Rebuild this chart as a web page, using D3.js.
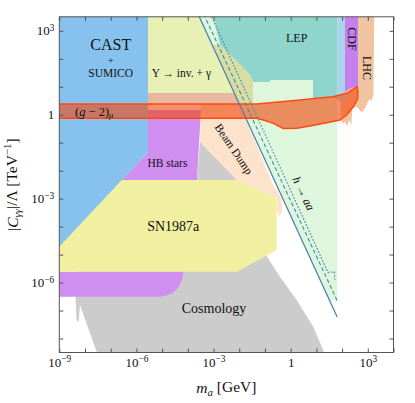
<!DOCTYPE html>
<html>
<head>
<meta charset="utf-8">
<script src="https://cdn.jsdelivr.net/npm/d3@7"></script>
<style>
  body { margin: 0; background: #fff; }
  text { font-family: "Liberation Serif", "DejaVu Serif", serif; fill: #111; }
</style>
</head>
<body>
<svg id="chart" width="415" height="403"></svg>
<script>
// all region vertices are [log10(m_a / GeV), log10(|C|/Lambda / TeV^-1)]
const cosmology = [[-8.37,-5.5],[-8.37,-6.507],[-8.33,-7.34],[-8.25,-7.41],[-8.195,-6.804],[-7.88,-7.626],[-7.456,-8.7],
  [1.40,-8.7],[0.879,-7.58],[0.234,-6.626],[-0.416,-5.792],[-0.96,-5.016],
  [-2.089,-2.335],[-3.527,-0.966],[-3.644,-2.335]];
const upsilon = [[-5.55,3.6],[-3.022,3.6],[-2.75,2.492],[-2.127,1.955],[-1.583,1.419],[-1.466,1.169],[-1.466,0.776],[-5.55,0.776]];
const hToAA = [[-3.605,3.6],[1.81,3.6],[1.81,-6.65],[1.52,-6.65]];
const overlap = [[-3.051,2.492],[-2.75,2.492],[-2.127,1.955],[-1.583,1.419],[-1.466,1.169],[-1.466,0.382],[-1.996,0.382]];
const lep = [[-3.022,3.6],[1.81,3.6],[1.81,0.597],[0.868,0.597],[0.868,1.24],[-0.805,1.24],[-0.805,1.169],
  [-1.466,1.169],[-1.583,1.419],[-2.127,1.955],[-2.75,2.492]];
const lhc = [[2.618,3.6],[3.25,3.6],[3.22,0.75],[3.16,0.49],[3.085,0.56],[3.0,0.45],[2.93,0.3],[2.85,0.17],[2.77,0.1],
  [2.7,0.132],[2.62,0.25],[2.5,0.28],[2.4,0.2],[2.36,-0.37],[2.28,-0.2],[2.2,-0.4],[2.12,-0.25],[2.05,-0.33],
  [1.95,-0.2],[1.95,0.6],[2.113,0.6]];
const lightBlue = [[1.81,3.6],[2.113,3.6],[2.113,0.5],[1.81,0.5]];
const cdf = [[2.113,3.6],[2.62,3.6],[2.62,1.0],[2.45,0.97],[2.28,0.93],[2.16,0.86],[2.113,0.75]];
const beamDump = [[-3.489,0.45],[-2.03,0.45],[-0.68,-2.514],[-0.338,-3.05],[-0.34,-3.5],[-0.455,-3.622],
  [-0.544,-3.4],[-0.544,-2.978],[-2.089,-2.335],[-3.527,-0.966]];
const hbStars = [[-5.55,0.168],[-3.489,0.168],[-3.644,-2.335],[-6.573,-2.335],[-5.55,-1.334]];
const hbLow = [[-9.5,-5.613],[-4.177,-5.613],[-4.227,-5.912],[-4.383,-6.198],[-4.617,-6.393],[-4.89,-6.482],[-5.083,-6.507],[-9.5,-6.507]];
const sn1987a = [[-9.5,-2.335],[-2.089,-2.335],[-0.544,-2.978],[-0.544,-4.837],[-2.089,-5.613],[-9.5,-5.613]];
const cast = [[-9.5,3.6],[-5.55,3.6],[-5.55,-1.334],[-9.5,-5.21]];
const g2Wide = [[-5.55,0.776],[-2.193,0.776],[-1.996,0.382],[-5.55,0.382]];
const g2Band = [[-9.5,0.382],[-1.322,0.382],[0.362,0.525],[1.012,0.586],[1.645,0.643],[2.178,0.765],[2.501,0.954],
  [2.579,1.008],[2.618,0.81],[2.6,0.55],[2.435,0.286],[2.178,-0.011],[1.918,-0.19],[1.40,-0.286],[0.751,-0.404],
  [0.234,-0.487],[-0.288,-0.494],[-0.676,-0.308],[-1.065,-0.19],[-1.322,-0.129],[-9.5,-0.129]];
const hSolid = [[-3.605,3.6],[1.81,-7.23]];
const hDashed = [[-3.385,3.6],[1.81,-6.65]];
const hDotted = [[-3.122,3.6],[1.45,-5.64],[1.7,-5.62],[1.72,-5.9]];

const xTickExp = d3.range(-9, 5);
const yTickExp = d3.range(-8, 4);
const xLabelExp = [-9, -6, -3, 0, 3];
const yLabelExp = [-6, -3, 0, 3];

const width = 415, height = 403;
const margin = { top: 16.8, right: 21.5, bottom: 50.5, left: 59.3 };

const svg = d3.select("#chart");

const x = d3.scaleLog().domain([1e-9, 1e4]).range([margin.left, width - margin.right]);
const y = d3.scaleLog().domain([10 ** -8.5, 10 ** 3.5]).range([height - margin.bottom, margin.top]);

const line = d3.line().x(d => x(10 ** d[0])).y(d => y(10 ** d[1]));

svg.append("defs").append("clipPath").attr("id", "plot")
  .append("rect")
  .attr("x", margin.left).attr("y", margin.top)
  .attr("width", width - margin.left - margin.right)
  .attr("height", height - margin.top - margin.bottom);

const plot = svg.append("g").attr("clip-path", "url(#plot)");

// regions, back to front
const regions = [
  [cosmology, "#cccccc"],
  [upsilon, "#e7f0b5"],
  [hToAA, "#ddf6dc"],
  [overlap, "#d8dea2"],
  [lep, "#8fd5cb"],
  [lhc, "#f0c4a0"],
  [lightBlue, "#a8d4ec"],
  [cdf, "#c480ee"],
  [beamDump, "#fde2cc"],
  [hbStars, "#cf8ef0"],
  [hbLow, "#cf8ef0"],
  [sn1987a, "#f0f0a0"],
  [cast, "#87c1ee"],
  [g2Wide, "#e8b7a0"]
];
regions.forEach(([pts, col]) => {
  plot.append("path").attr("d", line(pts) + "Z").attr("fill", col);
});

// (g-2)_mu band
plot.append("path")
  .attr("d", line(g2Band) + "Z")
  .attr("fill", "#f04a10").attr("fill-opacity", 0.62)
  .attr("stroke", "#ff4a12").attr("stroke-width", 1.5);

// h -> aa lines
plot.append("path").attr("d", line(hSolid)).attr("fill", "none")
  .attr("stroke", "#4a78b2").attr("stroke-width", 1.2);
plot.append("path").attr("d", line(hDashed)).attr("fill", "none")
  .attr("stroke", "#3f89ad").attr("stroke-width", 1.1).attr("stroke-dasharray", "4,2.5");
plot.append("path").attr("d", line(hDotted)).attr("fill", "none")
  .attr("stroke", "#4a8db5").attr("stroke-width", 1.3).attr("stroke-dasharray", "1.5,1.8");

// frame
svg.append("rect")
  .attr("x", margin.left).attr("y", margin.top)
  .attr("width", width - margin.left - margin.right)
  .attr("height", height - margin.top - margin.bottom)
  .attr("fill", "none").attr("stroke", "#555").attr("stroke-width", 1);

function expLabel(sel, e) {
  sel.text(null);
  if (e === 0) { sel.text("1"); return; }
  sel.append("tspan").text("10");
  sel.append("tspan").attr("dy", "-0.5em").attr("font-size", "0.72em").text(e < 0 ? "\u2212" + (-e) : e);
}

const xTicks = xTickExp.map(e => 10 ** e);
const yTicks = yTickExp.map(e => 10 ** e);

function styleAxis(g) {
  g.select(".domain").remove();
  g.selectAll(".tick line").attr("stroke", "#555");
  g.attr("font-family", null).attr("font-size", 13);
}

const gx = svg.append("g").attr("transform", `translate(0,${height - margin.bottom})`)
  .call(d3.axisBottom(x).tickValues(xTicks).tickSize(-4).tickPadding(5).tickFormat(() => ""));
styleAxis(gx);
gx.selectAll(".tick text").each(function (d) {
  const e = Math.round(Math.log10(d));
  if (xLabelExp.includes(e)) expLabel(d3.select(this), e);
});

const gy = svg.append("g").attr("transform", `translate(${margin.left},0)`)
  .call(d3.axisLeft(y).tickValues(yTicks).tickSize(-4).tickPadding(5).tickFormat(() => ""));
styleAxis(gy);
gy.selectAll(".tick text").each(function (d) {
  const e = Math.round(Math.log10(d));
  if (yLabelExp.includes(e)) expLabel(d3.select(this), e);
});

const gt = svg.append("g").attr("transform", `translate(0,${margin.top})`)
  .call(d3.axisTop(x).tickValues(xTicks).tickSize(-4).tickFormat(() => ""));
styleAxis(gt);
const gr = svg.append("g").attr("transform", `translate(${width - margin.right},0)`)
  .call(d3.axisRight(y).tickValues(yTicks).tickSize(-4).tickFormat(() => ""));
styleAxis(gr);

// axis titles
const xt = svg.append("text")
  .attr("x", (margin.left + width - margin.right) / 2).attr("y", 393)
  .attr("text-anchor", "middle").attr("font-size", 15.5);
xt.append("tspan").attr("font-style", "italic").text("m");
xt.append("tspan").attr("font-style", "italic").attr("font-size", "0.7em").attr("dy", "0.3em").text("a");
xt.append("tspan").attr("dy", "-0.3em").text(" [GeV]");

const yt = svg.append("text")
  .attr("transform", `translate(18,${(margin.top + height - margin.bottom) / 2}) rotate(-90)`)
  .attr("text-anchor", "middle").attr("font-size", 15.5);
yt.append("tspan").text("|");
yt.append("tspan").attr("font-style", "italic").text("C");
yt.append("tspan").attr("font-style", "italic").attr("font-size", "0.7em").attr("dy", "0.3em").text("\u03b3\u03b3");
yt.append("tspan").attr("dy", "-0.3em").text("|/\u039b [TeV");
yt.append("tspan").attr("font-size", "0.7em").attr("dy", "-0.5em").text("\u22121");
yt.append("tspan").attr("dy", "0.35em").text("]");

// region labels
function label(lm, lc, size, opts = {}) {
  const t = svg.append("text")
    .attr("transform", `translate(${x(10 ** lm)},${y(10 ** lc)})` + (opts.rotate ? ` rotate(${opts.rotate})` : ""))
    .attr("text-anchor", opts.anchor || "middle")
    .attr("font-size", size);
  if (opts.central) t.attr("dominant-baseline", "central");
  return t;
}

label(-7.0, 2.313, 16).text("CAST");
label(-7.0, 1.83, 10).text("+");
label(-7.0, 1.358, 11.5).text("SUMICO");
label(-5.406, 1.348, 11.5, { anchor: "start" }).text("\u03a5 \u2192 inv. + \u03b3");

const g2 = label(-8.39, -0.03, 12.5, { anchor: "start" });
g2.append("tspan").text("(");
g2.append("tspan").attr("font-style", "italic").text("g");
g2.append("tspan").text(" \u2212 2)");
g2.append("tspan").attr("font-style", "italic").attr("font-size", "0.7em").attr("dy", "0.3em").text("\u03bc");

label(-5.57, -1.86, 11.5, { anchor: "start" }).text("HB stars");
label(-4.566, -4.158, 14).text("SN1987a");
label(0.234, 2.588, 12).text("LEP");
label(2.373, 2.706, 12, { rotate: 90, central: true }).text("CDF");
label(2.956, 1.669, 12, { rotate: 90, central: true }).text("LHC");
label(-2.205, -1.227, 11.5, { rotate: 56, central: true }).text("Beam Dump");

const haa = label(0.498, -2.818, 12, { rotate: 64, central: true });
haa.append("tspan").attr("font-style", "italic").text("h");
haa.append("tspan").text(" \u2192 ");
haa.append("tspan").attr("font-style", "italic").text("aa");

label(-2.983, -7.09, 14).text("Cosmology");
</script>
</body>
</html>
